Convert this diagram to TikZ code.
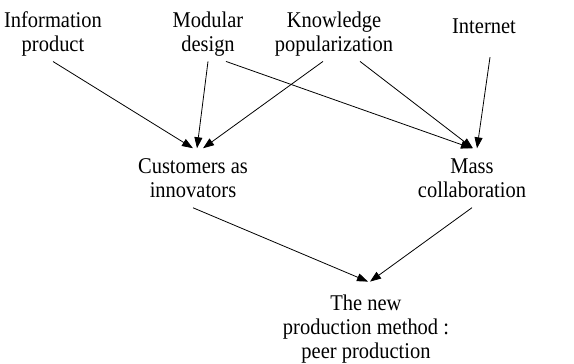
\documentclass[tikz,border=0pt]{standalone}
\usepackage{fontspec}
\setmainfont[FakeStretch=0.91]{Liberation Serif}
\usetikzlibrary{arrows.meta}

\begin{document}
\begin{tikzpicture}[x=1bp,y=-1bp,
    box/.style={align=center,inner xsep=2bp,inner ysep=5bp,
        font=\fontsize{22.5bp}{24bp}\selectfont},
    arr/.style={-{Triangle[length=11bp,width=8bp]},line width=0.8bp}]
\useasboundingbox (0,0) rectangle (574,363);

% Drivers
\node[box] (info) at (53,34) {Information\\product};
\node[box] (mod) at (208,34) {Modular\\design};
\node[box] (know) at (334,34) {Knowledge\\popularization};
\node[box,minimum height=62bp] (net) at (484,26) {Internet};

% Middle level
\node[box,inner ysep=10bp] (cust) at (193,178) {Customers as\\innovators};
\node[box,inner ysep=10bp] (mass) at (472,178) {Mass\\collaboration};

% Result
\node[box,inner ysep=13bp] (peer) at (366,329) {The new\\production method :\\peer production};

% Arrows
\draw[arr] (info.south) -- (cust.north);                                % product -> customers
\draw[arr] (mod.south) -- ([xshift=4bp]cust.north);                     % modular -> customers
\draw[arr] ([xshift=-11bp]know.south) -- ([xshift=10bp]cust.north);     % knowledge -> customers
\draw[arr] ([xshift=18bp]mod.south) -- (mass.north);                    % modular -> mass
\draw[arr] ([xshift=26bp]know.south) -- ([xshift=1bp]mass.north);       % knowledge -> mass
\draw[arr] ([xshift=6bp]net.south) -- ([xshift=5bp]mass.north);         % internet -> mass
\draw[arr] (cust.south) -- ([xshift=2bp]peer.north);                    % customers -> peer
\draw[arr] (mass.south) -- ([xshift=4bp]peer.north);                    % mass -> peer
\end{tikzpicture}
\end{document}
